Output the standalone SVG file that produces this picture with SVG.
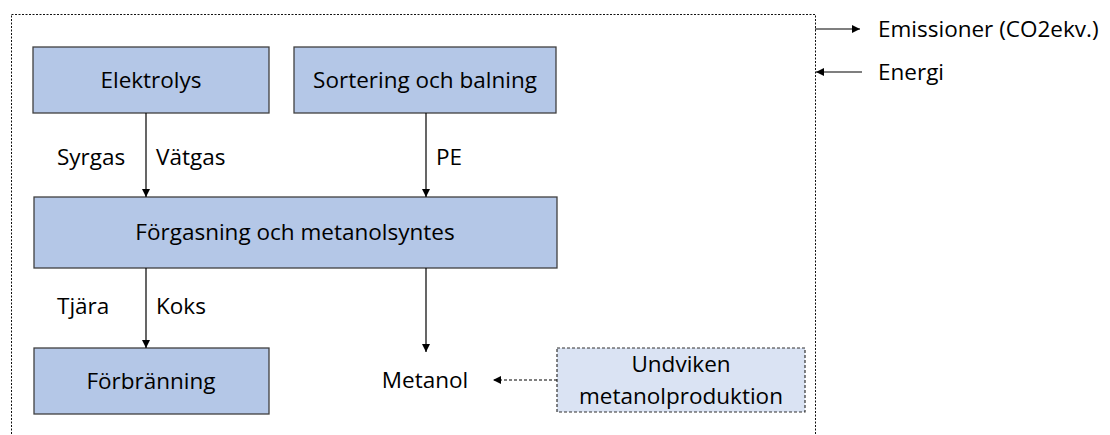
<svg xmlns="http://www.w3.org/2000/svg" width="1110" height="435" viewBox="0 0 1110 435">
<style>
.box{fill:#b4c7e7;stroke:#404040;stroke-width:1.3}
.dbox{fill:#dae3f3;stroke:#333;stroke-width:1.2;stroke-dasharray:3 2}
.t{font-family:"Open Sans","Noto Sans",sans-serif;font-size:22.5px;fill:#000}
.m{text-anchor:middle}
.ln{stroke:#000;stroke-width:1.2;fill:none}
</style>
<defs>
<marker id="ah" viewBox="0 0 10 10" refX="10" refY="5" markerWidth="8" markerHeight="8" markerUnits="userSpaceOnUse" orient="auto">
<path d="M0,0 L10,5 L0,10 z" fill="#000"/>
</marker>
</defs>
<rect x="11.5" y="14.5" width="804" height="440" fill="none" stroke="#111" stroke-width="1" stroke-dasharray="2 1.5"/>
<g id="elektrolys"><rect class="box" x="33" y="47" width="236" height="66"/><text class="t m" x="151" y="88">Elektrolys</text></g>
<g id="sortering"><rect class="box" x="294" y="47" width="262" height="66"/><text class="t m" x="425" y="88">Sortering och balning</text></g>
<g id="forgasning"><rect class="box" x="34" y="197" width="523" height="71"/><text class="t m" x="295" y="240">Förgasning och metanolsyntes</text></g>
<g id="forbranning"><rect class="box" x="34" y="348" width="235" height="66"/><text class="t m" x="151" y="389">Förbränning</text></g>
<g id="metanol"><text class="t m" x="425" y="388">Metanol</text></g>
<g id="undviken"><rect class="dbox" x="557" y="348" width="248" height="64"/><text class="t m" x="681" y="372">Undviken</text><text class="t m" x="681" y="404">metanolproduktion</text></g>
<g id="emissioner"><text class="t" x="878" y="37">Emissioner (CO2ekv.)</text></g>
<g id="energi"><text class="t" x="878" y="80">Energi</text></g>
<g id="connectors">
<line class="ln" x1="146" y1="113" x2="146" y2="197" marker-end="url(#ah)"/>
<line class="ln" x1="426" y1="113" x2="426" y2="197" marker-end="url(#ah)"/>
<line class="ln" x1="146" y1="268" x2="146" y2="348" marker-end="url(#ah)"/>
<line class="ln" x1="426" y1="268" x2="426" y2="352" marker-end="url(#ah)"/>
<line class="ln" x1="557" y1="380" x2="493" y2="380" stroke-dasharray="3 2" marker-end="url(#ah)"/>
<line class="ln" x1="815" y1="29" x2="860" y2="29" marker-end="url(#ah)"/>
<line class="ln" x1="862" y1="72" x2="816" y2="72" marker-end="url(#ah)"/>
<text class="t" x="57" y="165">Syrgas</text>
<text class="t" x="156" y="165">Vätgas</text>
<text class="t" x="436" y="165">PE</text>
<text class="t" x="57" y="314">Tjära</text>
<text class="t" x="156" y="314">Koks</text>
</g>
</svg>
